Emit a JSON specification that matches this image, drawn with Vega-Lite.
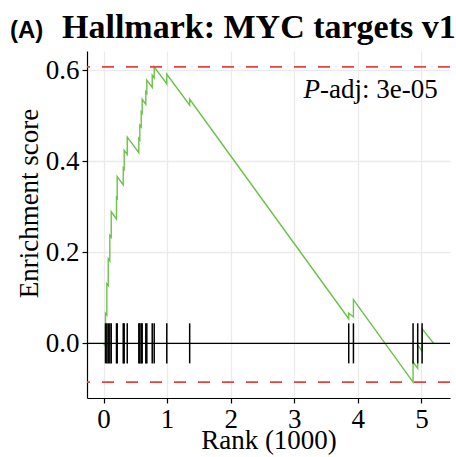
{
  "$schema": "https://vega.github.io/schema/vega-lite/v6.json",
  "autosize": {"type": "none"},
  "padding": {"left": 87, "top": 51, "right": 6, "bottom": 59},
  "width": 363,
  "height": 347,
  "background": "white",
  "title": {"text": "Hallmark: MYC targets v1", "font": "Liberation Serif", "fontSize": 34, "fontWeight": "bold", "color": "black", "anchor": "start", "frame": "group", "dx": -25, "dy": 65, "offset": 5, "baseline": "bottom"},
  "config": {
    "view": {"stroke": null},
    "axis": {"domainColor": "black", "domainWidth": 1.2, "tickColor": "black", "tickSize": 5, "tickWidth": 1.2, "labelFont": "Liberation Serif", "labelFontSize": 27, "labelColor": "black", "titleFont": "Liberation Serif", "titleFontSize": 27, "titleFontWeight": "normal", "titleColor": "black", "gridColor": "#ebebeb", "gridWidth": 1.3, "labelPadding": 3}
  },
  "datasets": {
    "es": [
      {"i": 1, "rank": 0, "es": 0},
      {"i": 2, "rank": 0.031, "es": -0.006},
      {"i": 3, "rank": 0.031, "es": 0.066},
      {"i": 4, "rank": 0.052, "es": 0.062},
      {"i": 5, "rank": 0.052, "es": 0.131},
      {"i": 6, "rank": 0.074, "es": 0.127},
      {"i": 7, "rank": 0.074, "es": 0.186},
      {"i": 8, "rank": 0.099, "es": 0.181},
      {"i": 9, "rank": 0.099, "es": 0.237},
      {"i": 10, "rank": 0.121, "es": 0.233},
      {"i": 11, "rank": 0.121, "es": 0.289},
      {"i": 12, "rank": 0.204, "es": 0.273},
      {"i": 13, "rank": 0.204, "es": 0.32},
      {"i": 14, "rank": 0.215, "es": 0.318},
      {"i": 15, "rank": 0.215, "es": 0.366},
      {"i": 16, "rank": 0.31, "es": 0.348},
      {"i": 17, "rank": 0.31, "es": 0.385},
      {"i": 18, "rank": 0.325, "es": 0.382},
      {"i": 19, "rank": 0.325, "es": 0.424},
      {"i": 20, "rank": 0.373, "es": 0.415},
      {"i": 21, "rank": 0.373, "es": 0.453},
      {"i": 22, "rank": 0.555, "es": 0.419},
      {"i": 23, "rank": 0.555, "es": 0.45},
      {"i": 24, "rank": 0.571, "es": 0.447},
      {"i": 25, "rank": 0.571, "es": 0.479},
      {"i": 26, "rank": 0.593, "es": 0.475},
      {"i": 27, "rank": 0.593, "es": 0.508},
      {"i": 28, "rank": 0.608, "es": 0.505},
      {"i": 29, "rank": 0.608, "es": 0.536},
      {"i": 30, "rank": 0.665, "es": 0.525},
      {"i": 31, "rank": 0.665, "es": 0.552},
      {"i": 32, "rank": 0.681, "es": 0.549},
      {"i": 33, "rank": 0.681, "es": 0.578},
      {"i": 34, "rank": 0.766, "es": 0.562},
      {"i": 35, "rank": 0.766, "es": 0.589},
      {"i": 36, "rank": 0.797, "es": 0.583},
      {"i": 37, "rank": 0.797, "es": 0.607},
      {"i": 38, "rank": 0.995, "es": 0.57},
      {"i": 39, "rank": 0.995, "es": 0.591},
      {"i": 40, "rank": 1.355, "es": 0.523},
      {"i": 41, "rank": 1.355, "es": 0.536},
      {"i": 42, "rank": 3.857, "es": 0.054},
      {"i": 43, "rank": 3.857, "es": 0.066},
      {"i": 44, "rank": 3.931, "es": 0.058},
      {"i": 45, "rank": 3.931, "es": 0.096},
      {"i": 46, "rank": 4.869, "es": -0.085},
      {"i": 47, "rank": 4.869, "es": -0.041},
      {"i": 48, "rank": 4.942, "es": -0.055},
      {"i": 49, "rank": 4.942, "es": -0.004},
      {"i": 50, "rank": 5.011, "es": -0.017},
      {"i": 51, "rank": 5.011, "es": 0.032},
      {"i": 52, "rank": 5.193, "es": 0}
    ],
    "hits": [
      {"rank": 0.031}, {"rank": 0.052}, {"rank": 0.074}, {"rank": 0.099}, {"rank": 0.121},
      {"rank": 0.204}, {"rank": 0.215}, {"rank": 0.31}, {"rank": 0.325}, {"rank": 0.373},
      {"rank": 0.555}, {"rank": 0.571}, {"rank": 0.593}, {"rank": 0.608}, {"rank": 0.665},
      {"rank": 0.681}, {"rank": 0.766}, {"rank": 0.797}, {"rank": 0.995}, {"rank": 1.355},
      {"rank": 3.857}, {"rank": 3.931}, {"rank": 4.869}, {"rank": 4.942}, {"rank": 5.011}
    ]
  },
  "layer": [
    {
      "data": {"name": "es"},
      "mark": {"type": "line", "color": "#6cc24a", "strokeWidth": 1.4},
      "encoding": {
        "x": {"field": "rank", "type": "quantitative", "scale": {"domain": [-0.26, 5.45], "nice": false, "zero": false},
          "axis": {"values": [0, 1, 2, 3, 4, 5], "format": "d", "title": "Rank (1000)", "titleBaseline": "alphabetic", "titleY": 50}},
        "y": {"field": "es", "type": "quantitative", "scale": {"domain": [-0.12, 0.642], "nice": false, "zero": false},
          "axis": {"values": [0, 0.2, 0.4, 0.6], "format": ".1f", "title": "Enrichment score", "titleBaseline": "alphabetic", "titleX": -50, "titleY": 152}},
        "order": {"field": "i", "type": "quantitative"}
      }
    },
    {
      "data": {"values": [{"es": 0.607}, {"es": -0.085}]},
      "mark": {"type": "rule", "color": "#e8423f", "strokeWidth": 1.8, "strokeDash": [12, 12]},
      "encoding": {"y": {"field": "es", "type": "quantitative"}}
    },
    {
      "data": {"values": [{"es": 0}]},
      "mark": {"type": "rule", "color": "black", "strokeWidth": 1.4},
      "encoding": {"y": {"field": "es", "type": "quantitative"}}
    },
    {
      "data": {"name": "hits"},
      "mark": {"type": "rule", "color": "black", "strokeWidth": 1.5},
      "encoding": {
        "x": {"field": "rank", "type": "quantitative"},
        "y": {"datum": -0.044},
        "y2": {"datum": 0.044}
      }
    },
    {
      "data": {"values": [{"label": "P"}]},
      "mark": {"type": "text", "font": "Liberation Serif", "fontSize": 27, "fontStyle": "italic", "align": "right", "baseline": "alphabetic", "color": "black"},
      "encoding": {"text": {"field": "label"}, "x": {"datum": 3.405}, "y": {"datum": 0.539}}
    },
    {
      "data": {"values": [{"label": "-adj: 3e-05"}]},
      "mark": {"type": "text", "font": "Liberation Serif", "fontSize": 27, "align": "left", "baseline": "alphabetic", "color": "black"},
      "encoding": {"text": {"field": "label"}, "x": {"datum": 3.405}, "y": {"datum": 0.539}}
    },
    {
      "data": {"values": [{"label": "(A)"}]},
      "mark": {"type": "text", "font": "Liberation Sans", "fontSize": 24, "fontWeight": "bold", "align": "left", "baseline": "alphabetic", "color": "black"},
      "encoding": {"text": {"field": "label"}, "x": {"datum": -1.471}, "y": {"datum": 0.6705}}
    }
  ]
}
